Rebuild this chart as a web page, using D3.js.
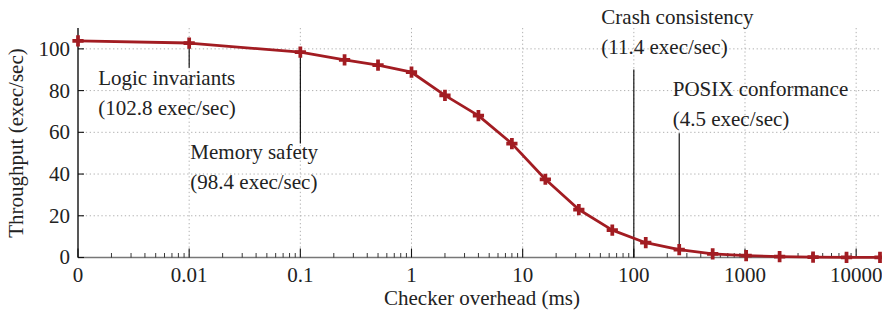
<!DOCTYPE html>
<html>
<head>
<meta charset="utf-8">
<script src="https://cdn.jsdelivr.net/npm/d3@7"></script>
<style>
    html, body { margin: 0; padding: 0; background: #fff; }
    #graph { width: 882px; height: 316px; }
</style>
</head>
<body>
<div id="graph"></div>
<script>
// checker overhead (ms) on x, throughput (exec/sec) on y
const overheadMs = [0, 0.01, 0.1, 0.25, 0.5, 1, 2, 4, 8, 16, 32, 64, 128, 256, 512, 1024, 2048, 4096, 8192, 16384];
const throughput = [103.8, 102.8, 98.4, 94.7, 92.2, 88.8, 77.7, 68.0, 54.6, 37.5, 23.0, 13.1, 7.1, 3.8, 1.7, 0.9, 0.4, 0.2, 0.1, 0.05];

// tick labels
const xTickValues = [0, 0.01, 0.1, 1, 10, 100, 1000, 10000];
const xTickLabels = ["0", "0.01", "0.1", "1", "10", "100", "1000", "10000"];
const yTickValues = [0, 20, 40, 60, 80, 100];

// annotations: which checker, its rate, where it sits on the x axis, and where its leader line ends
const annoNames = ["Logic invariants", "Memory safety", "Crash consistency", "POSIX conformance"];
const annoRates = ["(102.8 exec/sec)", "(98.4 exec/sec)", "(11.4 exec/sec)", "(4.5 exec/sec)"];
const annoOverhead = [0.01, 0.1, 100, 256];
const annoLineFrom = [102.8, 98.4, 0, 4.0];
const annoLineTo = [91, 54.7, 90.1, 59.5];

(function() {
    const color = "#a21c22";
    const font = "Liberation Serif";
    const fontSize = 21;

    // plot box (pixels in the 882x316 page)
    const margin = {top: 28, right: 2, bottom: 58.5, left: 78};
    const width = 882 - margin.left - margin.right;
    const height = 316 - margin.top - margin.bottom;

    // 0 is drawn one decade left of 0.01, like a symlog axis
    const zeroAt = 0.001;
    const xLog = d3.scaleLog().domain([zeroAt, 16384]).range([0, width]);
    const x = function(v) { return xLog(v === 0 ? zeroAt : v); };
    const y = d3.scaleLinear().domain([0, 110]).range([height, 0]);

    const svg = d3.select("#graph").append("svg")
        .attr("width", 882)
        .attr("height", 316)
        .append("g")
        .attr("transform", "translate(" + margin.left + "," + margin.top + ")");

    // every label gets the same serif face
    function label(sel) {
        return sel.attr("font-family", font)
            .attr("font-size", fontSize)
            .attr("fill", "#222");
    }

    // dotted grid
    const grid = svg.append("g")
        .attr("stroke", "#b0b0b0")
        .attr("stroke-width", 1)
        .attr("stroke-dasharray", "1.3,2.6");

    grid.selectAll("line.gy")
        .data(yTickValues.filter(function(d) { return d > 0; }))
        .enter().append("line")
        .attr("x1", 0).attr("x2", width)
        .attr("y1", function(d) { return y(d); })
        .attr("y2", function(d) { return y(d); });

    grid.selectAll("line.gx")
        .data(xTickValues.filter(function(d) { return d > 0; }))
        .enter().append("line")
        .attr("x1", function(d) { return x(d); })
        .attr("x2", function(d) { return x(d); })
        .attr("y1", 0).attr("y2", height);

    // minor ticks: 2..9 of every decade, starting from the "0" slot
    const minor = [];
    for (let e = -3; e <= 4; e++) {
        for (let k = 2; k <= 9; k++) {
            const v = k * Math.pow(10, e);
            if (v < 16384) minor.push(v);
        }
    }

    // x axis (ticks pointing into the plot)
    const xAxis = svg.append("g")
        .attr("transform", "translate(0," + height + ")");

    xAxis.append("line")
        .attr("x1", 0).attr("x2", width)
        .attr("stroke", "#777")
        .attr("stroke-width", 1.4);

    xAxis.selectAll("line.minor")
        .data(minor)
        .enter().append("line")
        .attr("x1", function(d) { return x(d); })
        .attr("x2", function(d) { return x(d); })
        .attr("y1", 0).attr("y2", -4.5)
        .attr("stroke", "#222")
        .attr("stroke-width", 0.9);

    xAxis.selectAll("line.major")
        .data(xTickValues)
        .enter().append("line")
        .attr("x1", function(d) { return x(d); })
        .attr("x2", function(d) { return x(d); })
        .attr("y1", 0).attr("y2", -9)
        .attr("stroke", "#111")
        .attr("stroke-width", 1.1);

    xAxis.selectAll("text")
        .data(xTickValues)
        .enter().append("text")
        .call(label)
        .attr("x", function(d) { return x(d); })
        .attr("y", 24.5)
        .attr("text-anchor", "middle")
        .text(function(d, i) { return xTickLabels[i]; });

    // y axis
    const yAxis = svg.append("g");

    yAxis.append("line")
        .attr("y1", 0).attr("y2", height)
        .attr("stroke", "#111")
        .attr("stroke-width", 1.4);

    yAxis.selectAll("line.tick")
        .data(yTickValues)
        .enter().append("line")
        .attr("x1", 0).attr("x2", 6)
        .attr("y1", function(d) { return y(d); })
        .attr("y2", function(d) { return y(d); })
        .attr("stroke", "#111")
        .attr("stroke-width", 1.1);

    yAxis.selectAll("text")
        .data(yTickValues)
        .enter().append("text")
        .call(label)
        .attr("x", -8)
        .attr("y", function(d) { return y(d); })
        .attr("dy", "0.33em")
        .attr("text-anchor", "end")
        .text(function(d) { return d; });

    // axis titles
    svg.append("text")
        .call(label)
        .attr("x", width / 2 + 3)
        .attr("y", height + 47.5)
        .attr("text-anchor", "middle")
        .text("Checker overhead (ms)");

    svg.append("text")
        .call(label)
        .attr("transform", "translate(" + (23 - margin.left) + "," + (143 - margin.top) + ") rotate(-90)")
        .attr("text-anchor", "middle")
        .text("Throughput (exec/sec)");

    // annotations; label offsets relative to the leader line top
    const labelOffset = [
        {dx: -91, dy: 17},
        {dx: -110, dy: 16},
        {dx: -32.5, dy: -46},
        {dx: -6.5, dy: -37.5}
    ];
    const lineGap = 30;

    annoNames.forEach(function(name, i) {
        const lx = x(annoOverhead[i]);
        const top = y(annoLineTo[i]);

        svg.append("line")
            .attr("x1", lx).attr("x2", lx)
            .attr("y1", y(annoLineFrom[i]))
            .attr("y2", top)
            .attr("stroke", "#000")
            .attr("stroke-width", 1.1);

        svg.append("text")
            .call(label)
            .attr("x", lx + labelOffset[i].dx)
            .attr("y", top + labelOffset[i].dy)
            .text(name);

        svg.append("text")
            .call(label)
            .attr("x", lx + labelOffset[i].dx)
            .attr("y", top + labelOffset[i].dy + lineGap)
            .text(annoRates[i]);
    });

    // the curve
    const data = overheadMs.map(function(d, i) { return {ms: d, tput: throughput[i]}; });

    const line = d3.line()
        .x(function(d) { return x(d.ms); })
        .y(function(d) { return y(d.tput); });

    svg.append("path")
        .datum(data)
        .attr("fill", "none")
        .attr("stroke", color)
        .attr("stroke-width", 2.8)
        .attr("stroke-linejoin", "round")
        .attr("d", line);

    svg.selectAll("path.mark")
        .data(data)
        .enter().append("path")
        .attr("transform", function(d) { return "translate(" + x(d.ms) + "," + y(d.tput) + ")"; })
        .attr("fill", color)
        .attr("d", d3.symbol(d3.symbolCross, 70));
})();
</script>
</body>
</html>
